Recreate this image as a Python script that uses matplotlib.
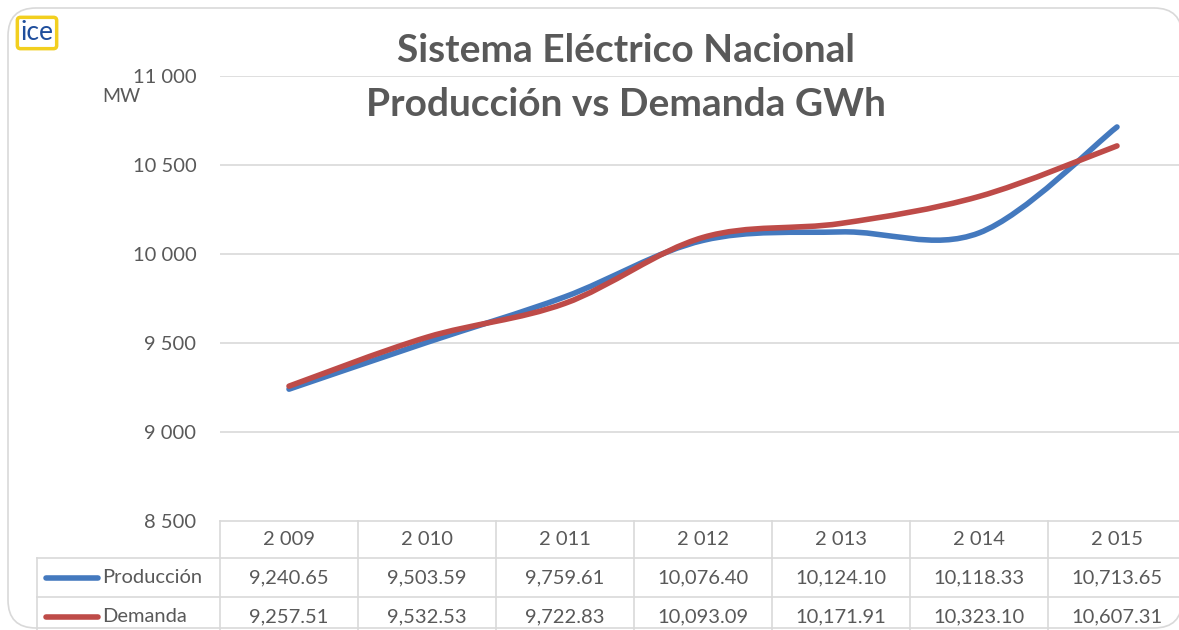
import numpy as np
import matplotlib.pyplot as plt
from matplotlib import transforms
from matplotlib.patches import FancyBboxPatch
from matplotlib.path import Path
from matplotlib.patches import PathPatch

years = [2009, 2010, 2011, 2012, 2013, 2014, 2015]
produccion = [9240.65, 9503.59, 9759.61, 10076.40, 10124.10, 10118.33, 10713.65]
demanda = [9257.51, 9532.53, 9722.83, 10093.09, 10171.91, 10323.10, 10607.31]
series_names = ["Producción", "Demanda"]
series_colors = ["#4479BE", "#BE4B48"]
y_ticks = [8500, 9000, 9500, 10000, 10500, 11000]

plt.rcParams['font.family'] = ['Lato', 'DejaVu Sans']
GRAY = "#595959"
GRID = "#D9D9D9"
FS = 14.5

W, H = 1179, 630
fig = plt.figure(figsize=(W / 100, H / 100), dpi=100)

# background axes in pixel coords
bg = fig.add_axes([0, 0, 1, 1])
bg.set_xlim(0, W)
bg.set_ylim(H, 0)
bg.axis("off")

frame = FancyBboxPatch((8, 8), 1174, 620, boxstyle="round,pad=0,rounding_size=28",
                       fc="white", ec="#D9D9D9", lw=1.2, transform=bg.transData)
bg.add_patch(frame)

# main plot axes: y 11000 at 76px, 8500 at 521px
left, right, top, bottom = 220, 1186, 76, 521
ax = fig.add_axes([left / W, 1 - bottom / H, (right - left) / W, (bottom - top) / H])
ax.patch.set_alpha(0)
ax.set_xlim(-0.5, len(years) - 0.5)
ax.set_ylim(8500, 11000)
for s in ax.spines.values():
    s.set_visible(False)
ax.set_xticks([])
ax.set_yticks(y_ticks)
ax.set_yticklabels([f"{t:,}".replace(",", " ") for t in y_ticks], color=GRAY, fontsize=FS)
ax.tick_params(axis="y", length=0, pad=17)
for t in y_ticks[1:]:
    ax.axhline(t, color=GRID, lw=1.2, zorder=0)


def smooth_path(xs, ys):
    # Excel-like smoothed line: cubic Bezier through the points
    pts = np.column_stack([xs, ys]).astype(float)
    ext = np.vstack([pts[0], pts, pts[-1]])
    verts = [pts[0]]
    codes = [Path.MOVETO]
    for i in range(len(pts) - 1):
        p0, p1, p2, p3 = ext[i], ext[i + 1], ext[i + 2], ext[i + 3]
        c1 = p1 + (p2 - p0) / 6
        c2 = p2 - (p3 - p1) / 6
        verts += [c1, c2, p2]
        codes += [Path.CURVE4] * 3
    return Path(verts, codes)


x = np.arange(len(years))
for vals, col in zip([produccion, demanda], series_colors):
    patch = PathPatch(smooth_path(x, vals), fc="none", ec=col, lw=4, capstyle="round", zorder=3)
    ax.add_patch(patch)

# title and labels
fig.text(626 / W, 1 - 51 / H, "Sistema Eléctrico Nacional", ha="center", va="center",
         fontsize=28, fontweight="bold", color=GRAY)
fig.text(626 / W, 1 - 104 / H, "Producción vs Demanda GWh", ha="center", va="center",
         fontsize=28, fontweight="bold", color=GRAY)
fig.text(121 / W, 1 - 96 / H, "MW", ha="center", va="center", fontsize=14, color=GRAY)

# logo
bg.text(37, 33, "ice", ha="center", va="center", fontsize=19, color="#1F4E9C",
        bbox=dict(boxstyle="round,pad=0.12", fc="white", ec="#F2CF1F", lw=2.5))

# data table below the plot
tr = transforms.blended_transform_factory(ax.transData, bg.transData)
row_y = [521, 558, 597, 636]
n = len(years)
bg.plot([-0.5, n - 0.5], [row_y[0]] * 2, color=GRID, lw=1.2, transform=tr, clip_on=False)
for yy in row_y[1:3]:
    bg.plot([37, 1186], [yy, yy], color=GRID, lw=1.2)
bg.plot([37, 37], [row_y[1], H], color=GRID, lw=1.2)
for k in range(n + 1):
    bg.plot([k - 0.5, k - 0.5], [row_y[0], H], color=GRID, lw=1.2, transform=tr)

for i, yr in enumerate(years):
    bg.text(i, (row_y[0] + row_y[1]) / 2, f"{yr:,}".replace(",", " "), ha="center",
            va="center", fontsize=FS, color=GRAY, transform=tr)
    for r, vals in enumerate([produccion, demanda]):
        bg.text(i, (row_y[r + 1] + row_y[r + 2]) / 2, f"{vals[i]:,.2f}", ha="center",
                va="center", fontsize=FS, color=GRAY, transform=tr)

for r, (name, col) in enumerate(zip(series_names, series_colors)):
    yc = (row_y[r + 1] + row_y[r + 2]) / 2
    bg.plot([46, 98], [yc, yc], color=col, lw=4, solid_capstyle="round")
    bg.text(102, yc, name, ha="left", va="center", fontsize=FS, color=GRAY)

fig.savefig("out.png", dpi=100)
